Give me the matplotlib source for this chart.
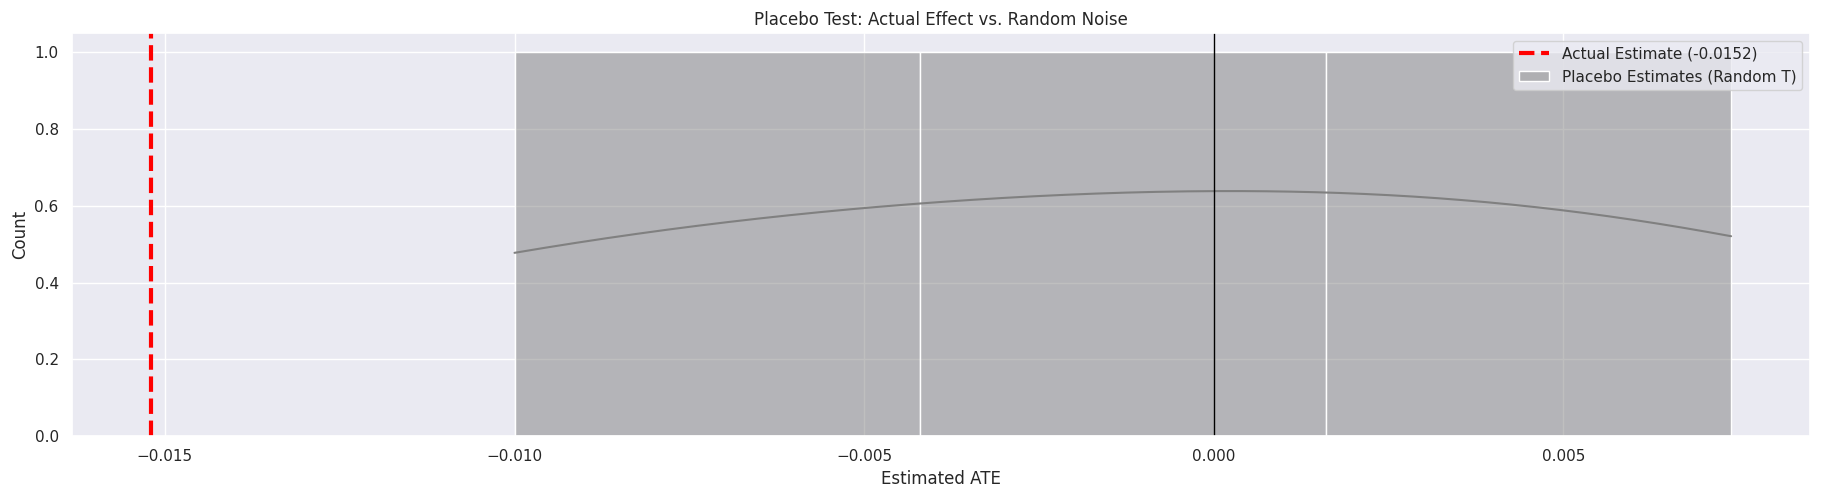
import numpy as np
import seaborn as sns
from matplotlib import pyplot as plt

# placebo ATE estimates (random treatment) and the actual estimate
placeboEstimates = [-0.0100, -0.0005, 0.0074]
actualEstimate = -0.0152

sns.set_theme(style="darkgrid")

placeboFigure, placeboPlot = plt.subplots(figsize=(18.21, 4.99), dpi=100)
sns.histplot(placeboEstimates, kde=True, color="gray", alpha=0.5,
             label="Placebo Estimates (Random T)", ax=placeboPlot)
placeboPlot.axvline(actualEstimate, color="red", linestyle="--", linewidth=3,
                    label=f"Actual Estimate ({actualEstimate:.4f})")
placeboPlot.axvline(0, color="black", linewidth=1)

placeboPlot.set_title("Placebo Test: Actual Effect vs. Random Noise")
placeboPlot.set_xlabel("Estimated ATE")
placeboPlot.set_ylabel("Count")
placeboPlot.legend(loc="upper right")

placeboFigure.subplots_adjust(left=0.0395, right=0.994, bottom=0.126, top=0.934)
placeboFigure.savefig("out.png")
plt.close(placeboFigure)
